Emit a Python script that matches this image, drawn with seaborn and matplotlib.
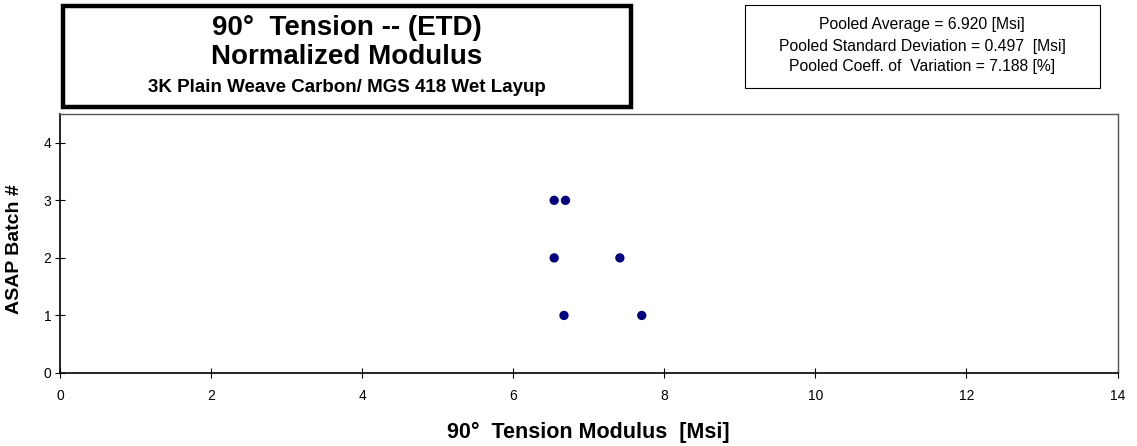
import matplotlib
matplotlib.use("Agg")
import matplotlib.pyplot as plt
import seaborn as sns
import pandas as pd
from matplotlib.patches import Rectangle

modulus = [6.67, 7.70, 6.54, 7.41, 6.54, 6.69]
batch = [1, 1, 2, 2, 3, 3]
x_ticks = [0, 2, 4, 6, 8, 10, 12, 14]
y_ticks = [0, 1, 2, 3, 4]

title_lines = ["90°  Tension -- (ETD)", "Normalized Modulus",
               "3K Plain Weave Carbon/ MGS 418 Wet Layup"]
stats_lines = ["Pooled Average = 6.920 [Msi]",
               "Pooled Standard Deviation = 0.497  [Msi]",
               "Pooled Coeff. of  Variation = 7.188 [%]"]

sns.set_theme(style="white")
plt.rcParams['font.family'] = ['Liberation Sans', 'DejaVu Sans']
plt.rcParams['text.color'] = 'black'
plt.rcParams['axes.labelcolor'] = 'black'

df = pd.DataFrame({"modulus": modulus, "batch": batch})

W, H = 1137, 446
fig = plt.figure(figsize=(11.37, 4.46), dpi=100)
ax = fig.add_axes([60.3 / W, 1 - 373 / H, (1117.5 - 60.3) / W, (373 - 114) / H])
sns.scatterplot(data=df, x="modulus", y="batch", ax=ax, color="#000080",
                s=45, edgecolor="none", zorder=3)

ax.set_xlim(0, 14)
ax.set_ylim(0, 4.5)
ax.set_xticks(x_ticks)
ax.set_yticks(y_ticks)
ax.tick_params(axis="both", bottom=True, left=True, direction="inout", length=7,
               width=0.8, labelsize=10, colors="black", labelcolor="black", pad=3)
ax.tick_params(axis="x", pad=8)
for side in ["left", "bottom"]:
    ax.spines[side].set_color("black")
    ax.spines[side].set_linewidth(1.2)
for side in ["top", "right"]:
    ax.spines[side].set_color("#555555")
    ax.spines[side].set_linewidth(1.0)

ax.set_xlabel("90°  Tension Modulus  [Msi]", fontsize=15.5, fontweight="bold")
ax.set_ylabel("ASAP Batch #", fontsize=14, fontweight="bold")
ax.xaxis.label.set_va("center")
ax.yaxis.label.set_va("center")
ax.xaxis.set_label_coords(0.499, (373 - 432) / 259)
ax.yaxis.set_label_coords((15 - 60.3) / 1057.2, (373 - 249) / 259)

# Title box
fig.patches.append(Rectangle((63 / W, 1 - 106.5 / H), (631 - 63) / W, (106.5 - 5.5) / H,
                             transform=fig.transFigure, fill=False,
                             edgecolor="black", linewidth=3.2))
fig.text(347 / W, 1 - 28 / H, title_lines[0], ha="center", va="center",
         fontsize=20, fontweight="bold")
fig.text(347 / W, 1 - 57 / H, title_lines[1], ha="center", va="center",
         fontsize=20, fontweight="bold")
fig.text(347 / W, 1 - 87 / H, title_lines[2], ha="center", va="center",
         fontsize=13.5, fontweight="bold")

# Stats box
fig.patches.append(Rectangle((744.5 / W, 1 - 88 / H), (1100 - 744.5) / W, (88 - 5) / H,
                             transform=fig.transFigure, fill=False,
                             edgecolor="black", linewidth=0.8))
for i, y in enumerate([25, 46, 67]):
    fig.text(922 / W, 1 - y / H, stats_lines[i], ha="center", va="center",
             fontsize=11.3)

fig.savefig("out.png", dpi=100)
